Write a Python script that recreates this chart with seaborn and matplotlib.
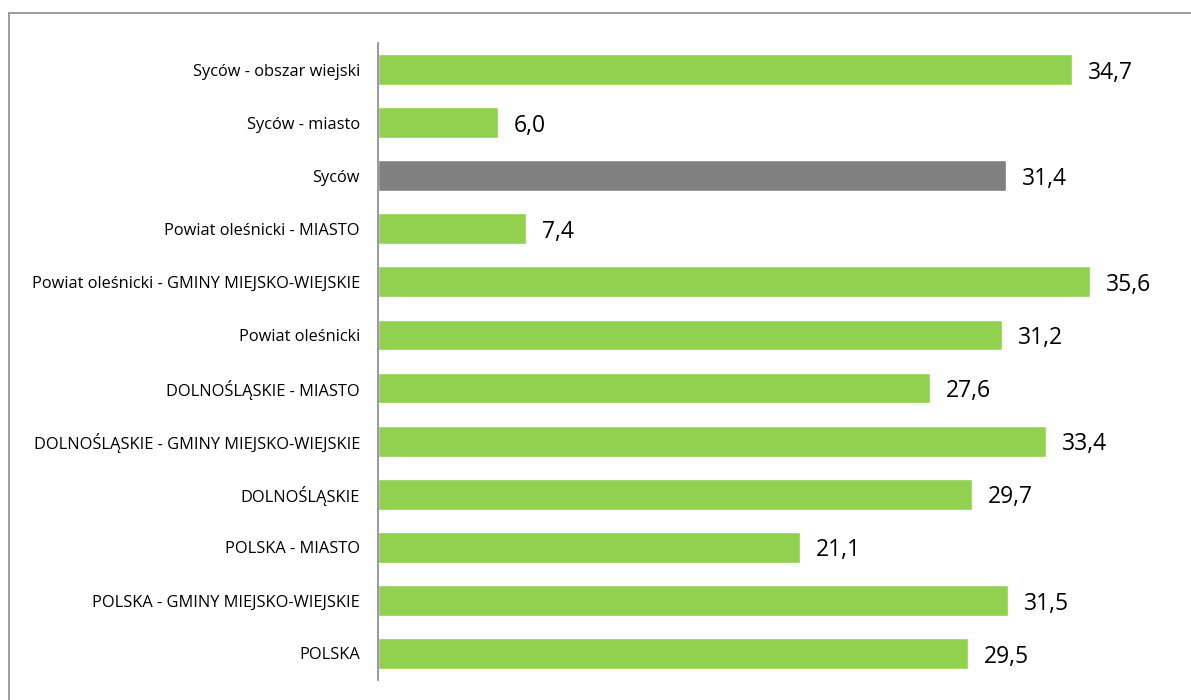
import matplotlib
matplotlib.use("Agg")
import matplotlib.pyplot as plt
import seaborn as sns
import pandas as pd

categories = [
    "Syców - obszar wiejski",
    "Syców - miasto",
    "Syców",
    "Powiat oleśnicki - MIASTO",
    "Powiat oleśnicki - GMINY MIEJSKO-WIEJSKIE",
    "Powiat oleśnicki",
    "DOLNOŚLĄSKIE - MIASTO",
    "DOLNOŚLĄSKIE - GMINY MIEJSKO-WIEJSKIE",
    "DOLNOŚLĄSKIE",
    "POLSKA - MIASTO",
    "POLSKA - GMINY MIEJSKO-WIEJSKIE",
    "POLSKA",
]
values = [34.7, 6.0, 31.4, 7.4, 35.6, 31.2, 27.6, 33.4, 29.7, 21.1, 31.5, 29.5]
highlight = "Syców"

sns.set_theme(style="white")
plt.rcParams['font.family'] = ['Open Sans', 'DejaVu Sans']

df = pd.DataFrame({"cat": categories, "val": values})
palette = {c: ("#808080" if c == highlight else "#92D050") for c in categories}

W, H = 1191, 700
fig = plt.figure(figsize=(W / 100, H / 100), dpi=100)
ax = fig.add_axes([378 / W, 1 - 680 / H, 800 / W, 637 / H])

sns.barplot(data=df, x="val", y="cat", hue="cat", palette=palette, legend=False,
            width=0.58, ax=ax, orient="h", saturation=1)

ax.set_xlim(0, 40)
ax.set_ylim(len(categories) - 0.5, -0.5)
ax.set_xlabel("")
ax.set_ylabel("")
ax.set_xticks([])
for s in ["top", "right", "bottom"]:
    ax.spines[s].set_visible(False)
ax.spines["left"].set_color("#888888")
ax.spines["left"].set_linewidth(1.2)
ax.tick_params(axis="y", length=0, pad=13, labelsize=11.8, labelcolor="#000000")

for i, v in enumerate(values):
    ax.text(v + 0.8, i + 0.06, f"{v:.1f}".replace(".", ","), va="center", ha="left",
            fontsize=16.5, color="#000000")

# figure border (top and left visible)
fig.add_artist(plt.Line2D([9 / W, 1.0], [1 - 13 / H, 1 - 13 / H], color="#8c8c8c", lw=1.2,
                          transform=fig.transFigure))
fig.add_artist(plt.Line2D([9 / W, 9 / W], [0.0, 1 - 13 / H], color="#8c8c8c", lw=1.2,
                          transform=fig.transFigure))

fig.savefig("out.png", dpi=100)
